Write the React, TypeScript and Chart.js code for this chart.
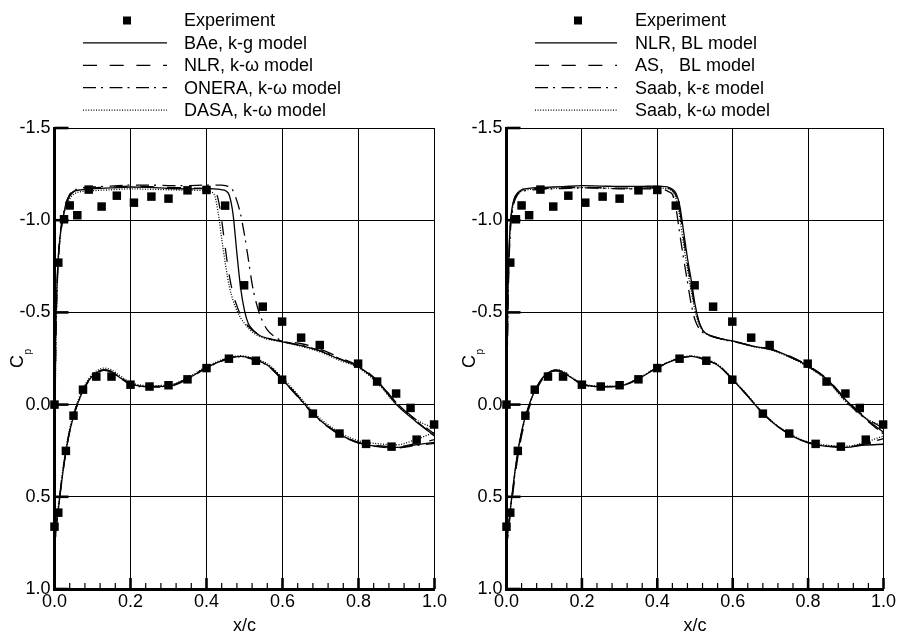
import React, { useEffect, useRef } from "react";
import { Chart, registerables } from "chart.js";

Chart.register(...registerables);

const FONT = '"Liberation Sans", Arial, Helvetica, sans-serif';

// ---------- Experiment (shared by both panels) ----------
const expUpperX = [0.01, 0.025, 0.04, 0.06, 0.09, 0.124, 0.164, 0.209, 0.255, 0.3, 0.35, 0.4, 0.449, 0.499, 0.548, 0.599, 0.649, 0.698, 0.799, 0.849, 0.899, 0.937, 0.999];
const expUpperCp = [-0.77, -1.005, -1.08, -1.027, -1.166, -1.074, -1.133, -1.095, -1.128, -1.117, -1.162, -1.164, -1.079, -0.647, -0.531, -0.45, -0.363, -0.323, -0.222, -0.125, -0.06, 0.018, 0.108];
const expLowerX = [0.0, 0.0, 0.01, 0.03, 0.05, 0.075, 0.11, 0.15, 0.2, 0.25, 0.3, 0.35, 0.4, 0.459, 0.53, 0.599, 0.68, 0.75, 0.82, 0.887, 0.953];
const expLowerCp = [0.0, 0.662, 0.586, 0.251, 0.06, -0.081, -0.152, -0.152, -0.108, -0.098, -0.105, -0.137, -0.198, -0.249, -0.238, -0.135, 0.049, 0.157, 0.213, 0.228, 0.19];

// ---------- x stations of the computed curves ----------
const upperX = [0, 0.001, 0.003, 0.006, 0.01, 0.015, 0.02, 0.03, 0.04, 0.05, 0.07, 0.1, 0.15, 0.2, 0.25, 0.3, 0.35, 0.4, 0.42, 0.43, 0.44, 0.45, 0.46, 0.47, 0.48, 0.49, 0.5, 0.51, 0.52, 0.53, 0.54, 0.56, 0.58, 0.6, 0.65, 0.7, 0.75, 0.8, 0.85, 0.9, 0.95, 1.0];
const lowerX = [0, 0.005, 0.01, 0.02, 0.03, 0.04, 0.05, 0.06, 0.075, 0.09, 0.1, 0.11, 0.13, 0.15, 0.17, 0.2, 0.25, 0.3, 0.35, 0.4, 0.45, 0.49, 0.53, 0.56, 0.6, 0.64, 0.68, 0.72, 0.76, 0.8, 0.85, 0.9, 0.95, 1.0];

// ---------- Left panel ----------
const leftLabels = ["Experiment", "BAe, k-g model", "NLR, k-\u03c9 model", "ONERA, k-\u03c9 model", "DASA, k-\u03c9 model"];
const baeUpper = [0.78, 0.2, -0.35, -0.62, -0.8, -0.92, -0.985, -1.09, -1.135, -1.155, -1.165, -1.17, -1.175, -1.18, -1.178, -1.172, -1.17, -1.172, -1.17, -1.168, -1.165, -1.16, -1.135, -1.03, -0.82, -0.63, -0.51, -0.44, -0.41, -0.39, -0.375, -0.36, -0.35, -0.34, -0.32, -0.29, -0.246, -0.205, -0.125, 0.0, 0.09, 0.17];
const nlrKwUpper = [0.78, 0.25, -0.28, -0.58, -0.78, -0.91, -0.98, -1.08, -1.13, -1.155, -1.17, -1.175, -1.18, -1.185, -1.182, -1.178, -1.175, -1.172, -1.165, -1.12, -1.0, -0.84, -0.7, -0.6, -0.535, -0.485, -0.45, -0.425, -0.405, -0.39, -0.377, -0.36, -0.35, -0.345, -0.33, -0.3, -0.255, -0.21, -0.13, -0.01, 0.08, 0.16];
const oneraUpper = [0.78, 0.22, -0.3, -0.6, -0.8, -0.93, -1.0, -1.09, -1.14, -1.16, -1.175, -1.18, -1.185, -1.19, -1.19, -1.188, -1.188, -1.19, -1.19, -1.19, -1.19, -1.188, -1.18, -1.16, -1.105, -1.03, -0.92, -0.79, -0.655, -0.56, -0.49, -0.405, -0.368, -0.345, -0.322, -0.292, -0.25, -0.205, -0.125, -0.01, 0.085, 0.17];
const dasaUpper = [0.78, 0.3, -0.22, -0.55, -0.77, -0.9, -0.98, -1.07, -1.115, -1.14, -1.155, -1.16, -1.165, -1.17, -1.168, -1.165, -1.163, -1.16, -1.14, -1.05, -0.9, -0.76, -0.64, -0.565, -0.51, -0.47, -0.44, -0.415, -0.395, -0.38, -0.37, -0.355, -0.347, -0.34, -0.315, -0.285, -0.24, -0.2, -0.115, 0.0, 0.08, 0.13];
const baeLower = [0.78, 0.66, 0.57, 0.4, 0.255, 0.145, 0.065, 0.0, -0.075, -0.13, -0.155, -0.172, -0.188, -0.178, -0.15, -0.112, -0.097, -0.1, -0.14, -0.2, -0.245, -0.262, -0.242, -0.215, -0.135, -0.045, 0.048, 0.12, 0.172, 0.207, 0.226, 0.232, 0.218, 0.205];
const nlrKwLower = [0.78, 0.65, 0.56, 0.39, 0.25, 0.14, 0.06, -0.005, -0.078, -0.132, -0.157, -0.174, -0.19, -0.18, -0.152, -0.114, -0.099, -0.102, -0.142, -0.202, -0.247, -0.263, -0.243, -0.217, -0.138, -0.048, 0.045, 0.118, 0.17, 0.205, 0.223, 0.228, 0.212, 0.19];
const oneraLower = [0.78, 0.66, 0.57, 0.4, 0.258, 0.148, 0.068, 0.003, -0.072, -0.128, -0.153, -0.17, -0.186, -0.176, -0.148, -0.11, -0.095, -0.098, -0.138, -0.198, -0.243, -0.26, -0.24, -0.213, -0.133, -0.043, 0.05, 0.122, 0.174, 0.209, 0.228, 0.235, 0.222, 0.21];
const dasaLower = [0.78, 0.64, 0.55, 0.38, 0.24, 0.13, 0.05, -0.012, -0.085, -0.14, -0.165, -0.182, -0.198, -0.188, -0.16, -0.12, -0.103, -0.106, -0.146, -0.206, -0.25, -0.265, -0.247, -0.222, -0.145, -0.055, 0.038, 0.11, 0.162, 0.196, 0.212, 0.218, 0.19, 0.15];

// ---------- Right panel ----------
const rightLabels = ["Experiment", "NLR, BL model", "AS,   BL model", "Saab, k-\u03b5 model", "Saab, k-\u03c9 model"];
const nlrBlUpper = [0.78, 0.0, -0.5, -0.8, -0.98, -1.07, -1.115, -1.15, -1.165, -1.17, -1.175, -1.178, -1.182, -1.187, -1.185, -1.183, -1.183, -1.185, -1.182, -1.178, -1.168, -1.145, -1.075, -0.935, -0.795, -0.675, -0.545, -0.455, -0.405, -0.385, -0.375, -0.362, -0.352, -0.345, -0.318, -0.3, -0.262, -0.209, -0.137, -0.025, 0.07, 0.15];
const asBlUpper = [0.78, 0.05, -0.45, -0.76, -0.96, -1.06, -1.105, -1.145, -1.16, -1.165, -1.17, -1.172, -1.175, -1.178, -1.176, -1.174, -1.174, -1.176, -1.175, -1.172, -1.162, -1.13, -1.045, -0.9, -0.765, -0.645, -0.525, -0.45, -0.405, -0.386, -0.375, -0.362, -0.352, -0.345, -0.32, -0.302, -0.265, -0.212, -0.14, -0.03, 0.065, 0.13];
const saabKeUpper = [0.78, 0.1, -0.4, -0.72, -0.93, -1.04, -1.095, -1.14, -1.155, -1.16, -1.165, -1.168, -1.172, -1.175, -1.173, -1.17, -1.17, -1.17, -1.165, -1.155, -1.14, -1.06, -0.92, -0.79, -0.665, -0.545, -0.46, -0.415, -0.393, -0.38, -0.372, -0.36, -0.35, -0.343, -0.318, -0.3, -0.26, -0.207, -0.135, -0.02, 0.075, 0.16];
const saabKwUpper = [0.78, 0.08, -0.42, -0.74, -0.95, -1.05, -1.1, -1.142, -1.158, -1.163, -1.168, -1.17, -1.174, -1.177, -1.175, -1.172, -1.172, -1.174, -1.172, -1.17, -1.155, -1.115, -1.01, -0.865, -0.735, -0.615, -0.51, -0.44, -0.402, -0.384, -0.374, -0.361, -0.351, -0.344, -0.316, -0.297, -0.258, -0.204, -0.13, -0.015, 0.07, 0.12];
const nlrBlLower = [0.78, 0.66, 0.57, 0.4, 0.255, 0.145, 0.065, 0.0, -0.075, -0.13, -0.155, -0.172, -0.185, -0.175, -0.148, -0.112, -0.097, -0.1, -0.14, -0.2, -0.245, -0.262, -0.24, -0.213, -0.135, -0.045, 0.048, 0.12, 0.172, 0.207, 0.226, 0.232, 0.22, 0.215];
const asBlLower = [0.78, 0.68, 0.6, 0.43, 0.285, 0.17, 0.085, 0.018, -0.06, -0.12, -0.148, -0.167, -0.183, -0.174, -0.147, -0.11, -0.096, -0.099, -0.139, -0.199, -0.244, -0.26, -0.24, -0.214, -0.136, -0.046, 0.047, 0.118, 0.17, 0.205, 0.223, 0.229, 0.215, 0.2];
const saabKeLower = [0.78, 0.67, 0.58, 0.41, 0.265, 0.155, 0.072, 0.006, -0.07, -0.127, -0.152, -0.17, -0.188, -0.178, -0.15, -0.113, -0.098, -0.101, -0.141, -0.201, -0.246, -0.263, -0.243, -0.216, -0.137, -0.047, 0.046, 0.119, 0.171, 0.206, 0.225, 0.23, 0.212, 0.185];
const saabKwLower = [0.78, 0.665, 0.575, 0.405, 0.26, 0.15, 0.068, 0.003, -0.072, -0.128, -0.154, -0.171, -0.19, -0.18, -0.152, -0.115, -0.1, -0.103, -0.143, -0.203, -0.248, -0.264, -0.245, -0.218, -0.14, -0.05, 0.043, 0.116, 0.168, 0.203, 0.22, 0.226, 0.205, 0.17];

// ---------- styles ----------
const DASHES: number[][] = [[], [14, 12.7], [13, 5, 2, 6.5], [1, 1.6]];
const LINE_W = 1.3;

const pts = (xs: number[], ys: number[]) => xs.map((x, i) => ({ x, y: ys[i] }));

type PanelCfg = {
  labels: string[];
  upper: number[][];
  lower: number[][];
  axisLeft: number;
  padRight: number;
  markerX: number;
  lineX0: number;
  lineX1: number;
  textX: number;
  cpX: number;
};

const leftCfg: PanelCfg = {
  labels: leftLabels,
  upper: [baeUpper, nlrKwUpper, oneraUpper, dasaUpper],
  lower: [baeLower, nlrKwLower, oneraLower, dasaLower],
  axisLeft: 54.5,
  padRight: 14.5,
  markerX: 127,
  lineX0: 83,
  lineX1: 167,
  textX: 184,
  cpX: 23,
};

const rightCfg: PanelCfg = {
  labels: rightLabels,
  upper: [nlrBlUpper, asBlUpper, saabKeUpper, saabKwUpper],
  lower: [nlrBlLower, asBlLower, saabKeLower, saabKwLower],
  axisLeft: 57.5,
  padRight: 12,
  markerX: 129,
  lineX0: 86,
  lineX1: 168,
  textX: 186,
  cpX: 26,
};

function makeDecor(cfg: PanelCfg) {
  return {
    id: "decor",
    afterDraw(chart: any) {
      const { ctx, chartArea: a, scales } = chart;
      const xs = scales.x;
      const ys = scales.y;
      ctx.save();
      ctx.strokeStyle = "#000";
      ctx.fillStyle = "#000";
      ctx.setLineDash([]);
      // inward y major ticks
      ctx.lineWidth = 2.6;
      ys.ticks.forEach((t: any) => {
        const py = ys.getPixelForValue(t.value);
        ctx.beginPath();
        ctx.moveTo(a.left, py);
        ctx.lineTo(a.left + 14, py);
        ctx.stroke();
      });
      // inward x major ticks
      xs.ticks.forEach((t: any) => {
        const px = xs.getPixelForValue(t.value);
        ctx.beginPath();
        ctx.moveTo(px, a.bottom);
        ctx.lineTo(px, a.bottom - 11);
        ctx.stroke();
      });
      // minor x ticks
      ctx.lineWidth = 1.2;
      for (let i = 1; i < 25; i++) {
        if (i % 5 === 0) continue;
        const px = xs.getPixelForValue(i * 0.04);
        ctx.beginPath();
        ctx.moveTo(px, a.bottom);
        ctx.lineTo(px, a.bottom - 6);
        ctx.stroke();
      }
      // legend
      ctx.font = `18px ${FONT}`;
      ctx.textBaseline = "middle";
      ctx.textAlign = "left";
      cfg.labels.forEach((lab, i) => {
        const y = 20.5 + i * 22.4;
        if (i === 0) {
          ctx.fillRect(cfg.markerX - 4, y - 4, 8, 8);
        } else {
          ctx.lineWidth = LINE_W;
          ctx.setLineDash(DASHES[i - 1]);
          ctx.beginPath();
          ctx.moveTo(cfg.lineX0, y);
          ctx.lineTo(cfg.lineX1, y);
          ctx.stroke();
          ctx.setLineDash([]);
        }
        ctx.fillText(lab, cfg.textX, y + 1);
      });
      // x axis title
      ctx.textAlign = "center";
      ctx.textBaseline = "alphabetic";
      ctx.fillText("x/c", (a.left + a.right) / 2, 631);
      // y axis title C_p
      ctx.translate(cfg.cpX, 368);
      ctx.rotate(-Math.PI / 2);
      ctx.textAlign = "left";
      ctx.fillText("C", 0, 0);
      const w = ctx.measureText("C").width;
      ctx.font = `10px ${FONT}`;
      ctx.fillText("p", w + 0.5, 8);
      ctx.restore();
    },
  };
}

function Panel({ cfg }: { cfg: PanelCfg }) {
  const ref = useRef<HTMLCanvasElement>(null);
  useEffect(() => {
    const datasets: any[] = [
      {
        label: cfg.labels[0],
        data: [...pts(expUpperX, expUpperCp), ...pts(expLowerX, expLowerCp)],
        showLine: false,
        pointStyle: "rect",
        pointRadius: 6,
        pointBorderWidth: 0,
        pointBackgroundColor: "#000",
        borderColor: "#000",
        clip: false,
      },
    ];
    cfg.upper.forEach((u, m) => {
      datasets.push({
        label: cfg.labels[m + 1],
        data: pts(upperX, u),
        borderColor: "#000",
        borderWidth: LINE_W,
        borderDash: DASHES[m],
        pointRadius: 0,
        fill: false,
        cubicInterpolationMode: "monotone",
      });
      datasets.push({
        label: cfg.labels[m + 1] + " (lower)",
        data: pts(lowerX, cfg.lower[m]),
        borderColor: "#000",
        borderWidth: LINE_W,
        borderDash: DASHES[m],
        pointRadius: 0,
        fill: false,
        cubicInterpolationMode: "monotone",
      });
    });

    const chart = new Chart(ref.current as HTMLCanvasElement, {
      type: "line",
      data: { datasets },
      options: {
        animation: false,
        responsive: false,
        devicePixelRatio: 1,
        events: [],
        layout: { padding: { top: 128, right: cfg.padRight, left: 0, bottom: 0 } },
        plugins: { legend: { display: false }, tooltip: { enabled: false } },
        scales: {
          x: {
            type: "linear",
            min: 0,
            max: 1,
            afterFit: (s: any) => {
              s.height = 46;
            },
            ticks: {
              stepSize: 0.2,
              autoSkip: false,
              maxRotation: 0,
              padding: 2,
              color: "#000",
              font: { family: FONT, size: 18 },
              callback: (v: any) => Number(v).toFixed(1),
            },
            grid: { color: "#000", lineWidth: 1, drawTicks: false },
            border: { display: true, color: "#000", width: 3 },
          },
          y: {
            type: "linear",
            reverse: true,
            min: -1.5,
            max: 1.0,
            afterFit: (s: any) => {
              s.width = cfg.axisLeft;
            },
            ticks: {
              stepSize: 0.5,
              autoSkip: false,
              padding: 4,
              color: "#000",
              font: { family: FONT, size: 18 },
              callback: (v: any) => Number(v).toFixed(1),
            },
            grid: { color: "#000", lineWidth: 1, drawTicks: false },
            border: { display: true, color: "#000", width: 3 },
          },
        },
      } as any,
      plugins: [makeDecor(cfg)],
    });
    return () => chart.destroy();
  }, [cfg]);
  return (
    <canvas
      ref={ref}
      width={449}
      height={635}
      style={{ display: "block", width: 449, height: 635 }}
    />
  );
}

export default function App() {
  return (
    <div
      style={{
        position: "absolute",
        left: 0,
        top: 0,
        width: 898,
        height: 635,
        display: "flex",
        background: "#fff",
      }}
    >
      <Panel cfg={leftCfg} />
      <Panel cfg={rightCfg} />
    </div>
  );
}
